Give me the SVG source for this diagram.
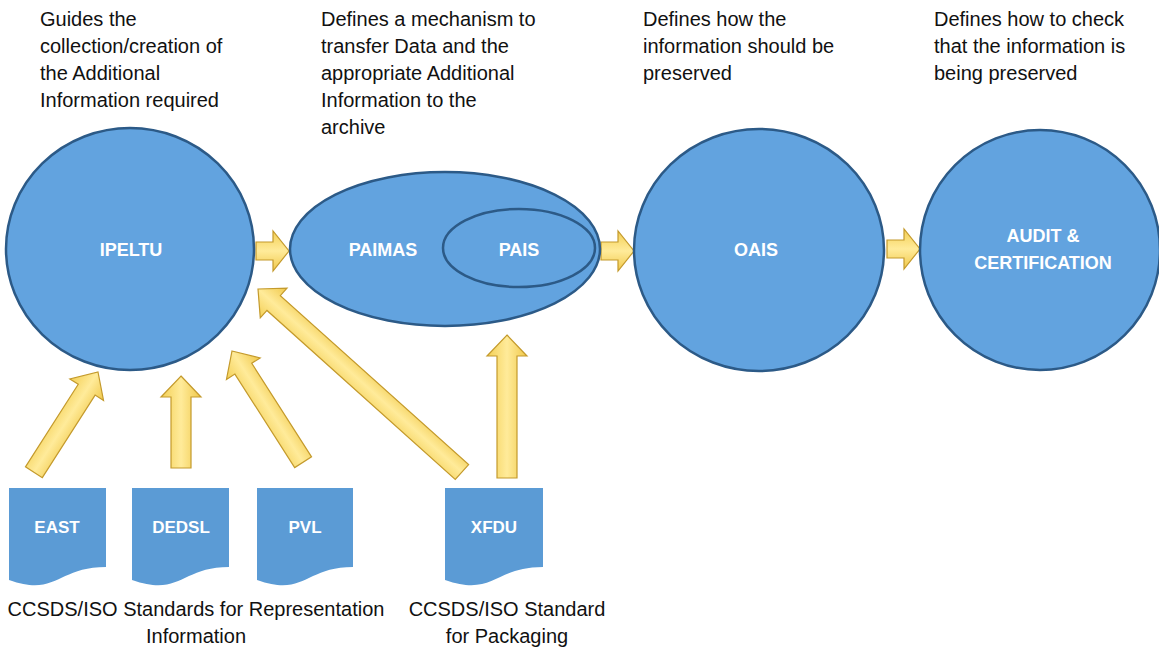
<svg xmlns="http://www.w3.org/2000/svg" width="1159" height="648" viewBox="0 0 1159 648">
<style>
.desc{font-family:"Liberation Sans",Arial,sans-serif;font-size:20px;fill:#111}
.lab{font-family:"Liberation Sans",Arial,sans-serif;font-size:18px;font-weight:bold;fill:#fff;text-anchor:middle}
.doclab{font-family:"Liberation Sans",Arial,sans-serif;font-size:17px;font-weight:bold;fill:#fff;text-anchor:middle}
.node{fill:#62a3df;stroke:#2c5a87;stroke-width:2.5}
.doc{fill:#5b9bd5}
.arr{fill:url(#gold);stroke:#c49a2c;stroke-width:1.2;stroke-linejoin:miter}
</style>
<defs>
<linearGradient id="gold" x1="0" y1="0" x2="1" y2="0">
<stop offset="0" stop-color="#f3cf55"/>
<stop offset="0.5" stop-color="#ffeb9a"/>
<stop offset="1" stop-color="#f0c84a"/>
</linearGradient>
<linearGradient id="goldh" x1="0" y1="0" x2="0" y2="1">
<stop offset="0" stop-color="#f3cf55"/>
<stop offset="0.5" stop-color="#ffeb9a"/>
<stop offset="1" stop-color="#f0c84a"/>
</linearGradient>
<path id="rarrow" d="M-33,-9 L-16,-9 L-16,-20 L0,0 L-16,20 L-16,9 L-33,9 Z" style="fill:url(#goldh);stroke:#c49a2c;stroke-width:1.2"/>
</defs>

<g id="descriptions">
<text class="desc" x="40" y="26">Guides the</text>
<text class="desc" x="40" y="53">collection/creation of</text>
<text class="desc" x="40" y="80">the Additional</text>
<text class="desc" x="40" y="107">Information required</text>
<text class="desc" x="321" y="26">Defines a mechanism to</text>
<text class="desc" x="321" y="53">transfer Data and the</text>
<text class="desc" x="321" y="80">appropriate Additional</text>
<text class="desc" x="321" y="107">Information to the</text>
<text class="desc" x="321" y="134">archive</text>
<text class="desc" x="643" y="26">Defines how the</text>
<text class="desc" x="643" y="53">information should be</text>
<text class="desc" x="643" y="80">preserved</text>
<text class="desc" x="934" y="26">Defines how to check</text>
<text class="desc" x="934" y="53">that the information is</text>
<text class="desc" x="934" y="80">being preserved</text>
<text class="desc" x="196" y="616" text-anchor="middle">CCSDS/ISO Standards for Representation</text>
<text class="desc" x="196" y="643" text-anchor="middle">Information</text>
<text class="desc" x="507" y="616" text-anchor="middle">CCSDS/ISO Standard</text>
<text class="desc" x="507" y="643" text-anchor="middle">for Packaging</text>
</g>

<g id="connectors">
<use href="#rarrow" transform="translate(289,251)"/>
<use href="#rarrow" transform="translate(634,251)"/>
<use href="#rarrow" transform="translate(920,249)"/>
<path class="arr" transform="translate(98,372) rotate(32.6)" d="M0,0 L20,21 L10,21 L10,119 L-10,119 L-10,21 L-20,21 Z"/>
<path class="arr" transform="translate(181,376)" d="M0,0 L20,21 L10,21 L10,92 L-10,92 L-10,21 L-20,21 Z"/>
<path class="arr" transform="translate(232,351) rotate(-32.6)" d="M0,0 L20,21 L10,21 L10,132 L-10,132 L-10,21 L-20,21 Z"/>
<path class="arr" transform="translate(258,289) rotate(-48.1)" d="M0,0 L20,21 L10,21 L10,274 L-10,274 L-10,21 L-20,21 Z"/>
<path class="arr" transform="translate(507,335)" d="M0,0 L20,21 L10,21 L10,143 L-10,143 L-10,21 L-20,21 Z"/>
</g>

<g id="IPELTU">
<ellipse class="node" cx="130" cy="249" rx="124" ry="121"/>
<text class="lab" x="131" y="256">IPELTU</text>
</g>

<g id="PAIMAS">
<ellipse class="node" cx="445" cy="249" rx="155" ry="77"/>
<text class="lab" x="383" y="256">PAIMAS</text>
</g>

<g id="PAIS">
<ellipse class="node" cx="519" cy="248" rx="76" ry="39"/>
<text class="lab" x="519" y="256">PAIS</text>
</g>

<g id="OAIS">
<ellipse class="node" cx="759" cy="250" rx="125" ry="121"/>
<text class="lab" x="756" y="256">OAIS</text>
</g>

<g id="AUDIT">
<ellipse class="node" cx="1040" cy="250" rx="120" ry="120"/>
<text class="lab" x="1043" y="242">AUDIT &amp;</text>
<text class="lab" x="1043" y="269">CERTIFICATION</text>
</g>

<g id="EAST">
<path class="doc" d="M9,488 H106 V567 C57,567 57,597 9,580 Z"/>
<text class="doclab" x="57" y="533">EAST</text>
</g>
<g id="DEDSL">
<path class="doc" d="M132,488 H229 V567 C181,567 181,597 132,580 Z"/>
<text class="doclab" x="181" y="533">DEDSL</text>
</g>
<g id="PVL">
<path class="doc" d="M257,488 H353 V567 C305,567 305,597 257,580 Z"/>
<text class="doclab" x="305" y="533">PVL</text>
</g>
<g id="XFDU">
<path class="doc" d="M445,488 H543 V567 C494,567 494,597 445,580 Z"/>
<text class="doclab" x="494" y="533">XFDU</text>
</g>
</svg>
